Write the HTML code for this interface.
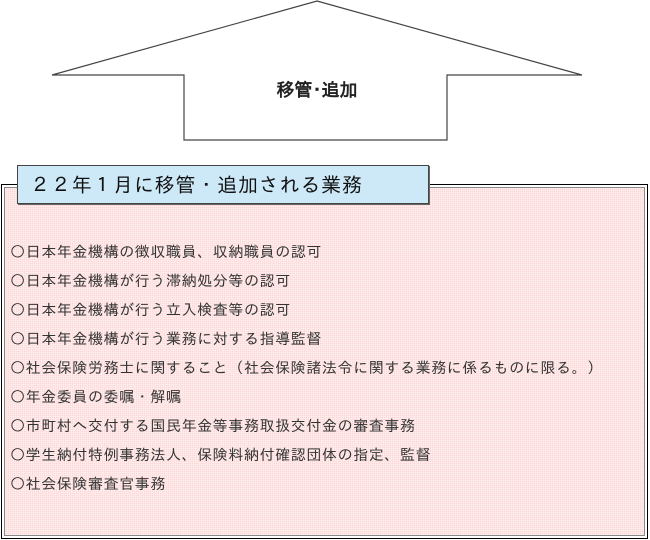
<!DOCTYPE html>
<html><head><meta charset="utf-8"><style>
body{margin:0;width:650px;height:540px;background:#fff;position:relative;overflow:hidden;font-family:"IPAGothic","Noto Sans CJK JP",sans-serif}
.box{position:absolute;left:1px;top:184px;width:645px;height:353px;border:1px solid #000;background:#fff}
.inner{position:absolute;left:2px;top:2px;right:2px;bottom:2px;border:1px solid #888;background:#fdd8d8;
background-image:repeating-linear-gradient(90deg,rgba(255,255,255,.35) 0 1px,transparent 1px 2px),repeating-linear-gradient(0deg,rgba(255,255,255,.35) 0 1px,transparent 1px 2px)}
.title{position:absolute;left:17px;top:165px;width:412px;height:39px;background:#cde9f8;border:1px solid #444;box-shadow:1px 1px 0 #666;font-size:20px;line-height:39px;color:#111;letter-spacing:0.8px;padding-left:12px;box-sizing:border-box}
.item{position:absolute;left:10px;font-size:15px;color:#333;letter-spacing:0.6px;line-height:18px;white-space:nowrap}
</style></head><body>
<svg width="650" height="180" style="position:absolute;left:0;top:0">
<polygon points="317,1 582,75 447,75 447,140 184,140 184,75 52,75" fill="#fff" stroke="#444" stroke-width="1.2"/>
<text x="317" y="96" text-anchor="middle" font-size="18" font-weight="bold" fill="#222" font-family="IPAGothic,Noto Sans CJK JP,sans-serif">移管･追加</text>
</svg>
<div class="box"><div class="inner"></div></div>
<div class="title">２２年１月に移管・追加される業務</div>
<div class="item" style="top:243px">○日本年金機構の徴収職員、収納職員の認可</div>
<div class="item" style="top:272px">○日本年金機構が行う滞納処分等の認可</div>
<div class="item" style="top:301px">○日本年金機構が行う立入検査等の認可</div>
<div class="item" style="top:330px">○日本年金機構が行う業務に対する指導監督</div>
<div class="item" style="top:359px">○社会保険労務士に関すること（社会保険諸法令に関する業務に係るものに限る。）</div>
<div class="item" style="top:388px">○年金委員の委嘱・解嘱</div>
<div class="item" style="top:417px">○市町村へ交付する国民年金等事務取扱交付金の審査事務</div>
<div class="item" style="top:446px">○学生納付特例事務法人、保険料納付確認団体の指定、監督</div>
<div class="item" style="top:475px">○社会保険審査官事務</div>
</body></html>
